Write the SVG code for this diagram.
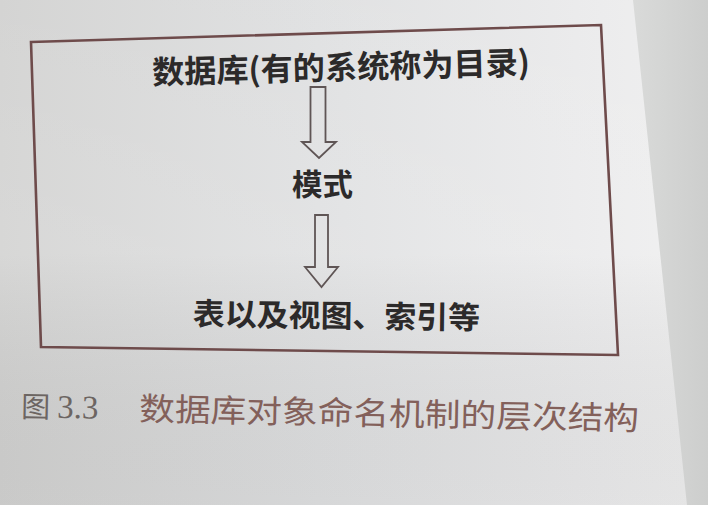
<svg xmlns="http://www.w3.org/2000/svg" width="708" height="505" viewBox="0 0 708 505">
  <defs>
    <linearGradient id="paper" x1="0" y1="0" x2="1" y2="0">
      <stop offset="0" stop-color="#d2d2d1"/>
      <stop offset="0.45" stop-color="#dfe0e1"/>
      <stop offset="0.85" stop-color="#ebebec"/>
      <stop offset="1" stop-color="#efefef"/>
    </linearGradient>
    <linearGradient id="shade" x1="0" y1="0" x2="0" y2="1">
      <stop offset="0" stop-color="#ffffff" stop-opacity="0.05"/>
      <stop offset="0.5" stop-color="#ffffff" stop-opacity="0.12"/>
      <stop offset="1" stop-color="#000000" stop-opacity="0.04"/>
    </linearGradient>
    <linearGradient id="beyond" x1="0" y1="0" x2="1" y2="0">
      <stop offset="0" stop-color="#d9dad9"/>
      <stop offset="1" stop-color="#cdcecd"/>
    </linearGradient>
    <style>
      .node text { font-family: "Noto Sans CJK SC", "Liberation Sans", sans-serif; font-weight: 700; fill: #2c2a2a; }
      .frame { fill: none; stroke: #6e4b4b; stroke-width: 2.6; stroke-linejoin: miter; }
      .arrow { fill: none; stroke: #5f5555; stroke-width: 1.8; stroke-linejoin: miter; }
      .cap { font-family: "Noto Sans CJK SC", "Liberation Serif", sans-serif; font-weight: 400; }
      .num { font-family: "Liberation Serif", "Noto Sans CJK SC", serif; font-weight: 400; }
    </style>
  </defs>

  <!-- page surface -->
  <rect x="0" y="0" width="708" height="505" fill="url(#paper)"/>
  <rect x="0" y="0" width="708" height="505" fill="url(#shade)"/>
  <!-- area past the page edge -->
  <polygon points="633,0 708,0 708,505 687,505" fill="url(#beyond)"/>

  <!-- outer frame of the figure -->
  <polygon class="frame" points="31,42 601,25 618,355 41,347"/>

  <!-- nodes -->
  <g id="node-database" class="node">
    <text x="152" y="79" font-size="32" textLength="378" lengthAdjust="spacingAndGlyphs" transform="rotate(-1.5 341 67)">数据库(有的系统称为目录)</text>
  </g>
  <g id="node-schema" class="node">
    <text x="292" y="195" font-size="30" textLength="61" lengthAdjust="spacingAndGlyphs">模式</text>
  </g>
  <g id="node-objects" class="node">
    <text x="193" y="327" font-size="31" textLength="287" lengthAdjust="spacingAndGlyphs" transform="rotate(0.8 336 315)">表以及视图、索引等</text>
  </g>

  <!-- connectors: hollow block arrows -->
  <g id="connectors">
    <polygon class="arrow" points="310.5,87 325.5,87 325.5,142 336,142 319,158 302,142 310.5,142"/>
    <polygon class="arrow" points="315,215 328,215 328,267 338,267 321.5,287 305,267 315,267"/>
  </g>

  <!-- figure caption -->
  <g id="caption" transform="rotate(1.1 330 418)">
    <text class="cap" x="21" y="423" font-size="29" fill="#6c6562">图</text>
    <text class="num" x="57" y="423" font-size="33" fill="#6c6562">3.3</text>
    <text class="cap" x="139" y="424" font-size="32" fill="#83605a" textLength="500" lengthAdjust="spacingAndGlyphs">数据库对象命名机制的层次结构</text>
  </g>
</svg>
